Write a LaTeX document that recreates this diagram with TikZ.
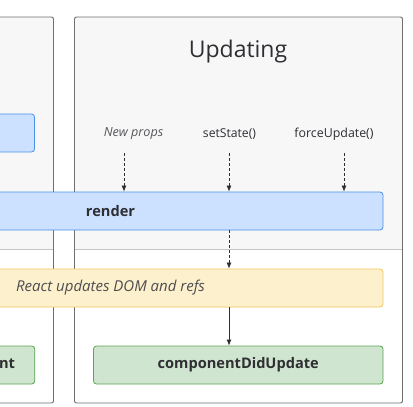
\documentclass[tikz,border=0pt]{standalone}
\usepackage{fontspec}
\setmainfont{Open Sans}
\usepackage{xcolor}
\usepackage{tikz}
\usetikzlibrary{arrows.meta,positioning}

\definecolor{panelgray}{HTML}{F7F7F7}
\definecolor{panelline}{HTML}{6E6E6E}
\definecolor{dividerline}{HTML}{C4C4C4}
\definecolor{textdark}{HTML}{2E2E33}
\definecolor{renderfill}{HTML}{CCE0FF}
\definecolor{renderline}{HTML}{4A90E8}
\definecolor{domfill}{HTML}{FDF0CC}
\definecolor{domline}{HTML}{F2C75E}
\definecolor{didfill}{HTML}{D0E5CF}
\definecolor{didline}{HTML}{5AA550}

\begin{document}
\begin{tikzpicture}[x=1pt,y=-1pt,
    panelbox/.style={draw=panelline,line width=0.9pt,rounded corners=2pt},
    phasebox/.style={draw,line width=0.8pt,rounded corners=3pt,minimum height=38pt,inner sep=0pt,text=textdark},
    dasharrow/.style={draw=textdark,line width=0.7pt,dash pattern=on 3pt off 2pt,-{Latex[length=6pt,width=5pt]}},
    solidarrow/.style={draw=textdark,line width=0.8pt,-{Latex[length=6pt,width=5pt]}}]
    \useasboundingbox (0,0) rectangle (413,407);
    \clip (0,0) rectangle (413,407);

    % panels
    \fill[white] (-300,17) rectangle (53.5,403);
    \fill[panelgray,rounded corners=2pt] (-300,249) |- (53.5,17) -- (53.5,249) -- cycle;
    \draw[dividerline,line width=0.8pt] (-300,249) -- (53.5,249);
    \draw[panelbox] (-300,17) rectangle (53.5,403);

    \fill[white] (74.5,17) rectangle (402.5,403);
    \fill[panelgray,rounded corners=2pt] (74.5,249) |- (402.5,17) -- (402.5,249) -- cycle;
    \draw[dividerline,line width=0.8pt] (74.5,249) -- (402.5,249);
    \draw[panelbox] (74.5,17) rectangle (402.5,403);

    \node[text=textdark,font=\fontsize{23}{26}\selectfont] (updtitle) at (238,51.5) {Updating};

    % triggers
    \node[text=textdark!80,font=\fontsize{12.6}{14}\selectfont\itshape] (newprops) at (133.5,134) {New props};
    \node[text=textdark,font=\fontsize{12.2}{14}\selectfont] (setstate) at (229.5,134) {setState()};
    \node[text=textdark,font=\fontsize{12.4}{14}\selectfont] (forceupd) at (334,134) {forceUpdate()};
    \coordinate (propsin) at (124,153);
    \coordinate (statein) at (229,153);
    \coordinate (forcein) at (344,153);

    % boxes
    \node[phasebox,fill=renderfill,draw=renderline,minimum width=289pt] (mountblue) at (-110,133) {};
    \node[phasebox,fill=renderfill,draw=renderline,minimum width=545pt,font=\fontsize{14.6}{16}\selectfont\bfseries] (render) at (110.5,211) {render};
    \node[phasebox,fill=domfill,draw=domline,minimum width=545pt,font=\fontsize{15}{17}\selectfont\itshape] (domrefs) at (110.5,288) {\color{textdark!85}React updates DOM and refs};
    \node[phasebox,fill=didfill,draw=didline,minimum width=289.5pt] (didmount) at (-110,365) {};
    \node[text=textdark,font=\fontsize{14.6}{16}\selectfont\bfseries,anchor=east] (didmountlbl) at (18.5,365) {componentDidMount};
    \node[phasebox,fill=didfill,draw=didline,minimum width=289.5pt,font=\fontsize{14.6}{16}\selectfont\bfseries] (didupdate) at (238.25,365) {componentDidUpdate};

    % arrows
    \draw[dasharrow] (propsin) -- (propsin |- render.north);
    \draw[dasharrow] (statein) -- (statein |- render.north);
    \draw[dasharrow] (forcein) -- (forcein |- render.north);
    \draw[dasharrow] (render.south -| statein) -- (domrefs.north -| statein);
    \draw[solidarrow] (domrefs.south -| statein) -- (didupdate.north -| statein);
\end{tikzpicture}
\end{document}
